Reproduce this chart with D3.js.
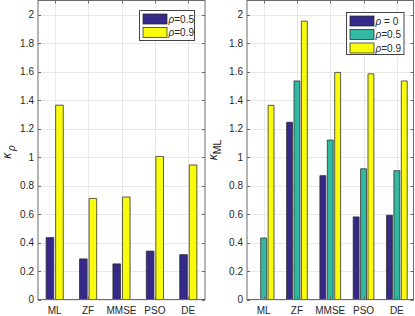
<!DOCTYPE html>
<html><head><meta charset="utf-8">
<script src="https://cdn.jsdelivr.net/npm/d3@7"></script>
<style>
html,body{margin:0;padding:0;background:#fff;}
svg{display:block;font-family:"Liberation Sans",Arial,Helvetica,sans-serif;}
</style></head>
<body>
<svg id="chart" width="415" height="316"></svg>
<script>
const categories = ["ML", "ZF", "MMSE", "PSO", "DE"];
const yTicks = [0, 0.2, 0.4, 0.6, 0.8, 1, 1.2, 1.4, 1.6, 1.8, 2];
const yMax = 2.1;

// Left panel (kappa_rho)
const leftLabels = ["ρ=0.5", "ρ=0.9"];
const left_rho05 = [0.435, 0.285, 0.25, 0.34, 0.315];
const left_rho09 = [1.365, 0.71, 0.72, 1.005, 0.945];
const leftColors = ["#352a87", "#f9fb0e"];

// Right panel (kappa_ML)
const rightLabels = ["ρ = 0", "ρ=0.5", "ρ=0.9"];
const right_rho0 = [0, 1.245, 0.87, 0.58, 0.592];
const right_rho05 = [0.432, 1.535, 1.12, 0.918, 0.905];
const right_rho09 = [1.364, 1.955, 1.595, 1.585, 1.535];
const rightColors = ["#352a87", "#33b8a1", "#f9fb0e"];

const svg = d3.select("#chart");
const plotTop = 0.5, plotBottom = 299.5;

function panel(opts) {
  const g = svg.append("g");
  const x = d3.scaleLinear().domain([0.5, categories.length + 0.5]).range([opts.x0, opts.x1]);
  const y = d3.scaleLinear().domain([0, yMax]).range([plotBottom, plotTop]);
  const n = opts.series.length;
  const groupW = Math.min(0.8, n / (n + 1.5));
  const barW = groupW / n * 0.8;

  // grid
  g.append("g").selectAll("line.hg").data(yTicks).join("line")
    .attr("x1", opts.x0).attr("x2", opts.x1)
    .attr("y1", d => Math.round(y(d)) + 0.5).attr("y2", d => Math.round(y(d)) + 0.5)
    .attr("stroke", "#e8e8e8").attr("stroke-width", 1);
  g.append("g").selectAll("line.vg").data(categories).join("line")
    .attr("x1", (d, i) => Math.round(x(i + 1)) + 0.5).attr("x2", (d, i) => Math.round(x(i + 1)) + 0.5)
    .attr("y1", plotTop).attr("y2", plotBottom)
    .attr("stroke", "#e8e8e8").attr("stroke-width", 1);

  // bars (drawn as paths so a zero-height bar still shows its edge)
  opts.series.forEach((vals, s) => {
    const off = -groupW / 2 + (2 * s + 1) * groupW / (2 * n);
    g.append("g").selectAll("path").data(vals).join("path")
      .attr("d", (d, i) => {
        const bx = x(i + 1 + off - barW / 2), bw = x(barW) - x(0);
        const by = y(d), bh = y(0) - y(d);
        return `M${bx},${by}h${bw}v${bh}h${-bw}Z`;
      })
      .attr("fill", opts.colors[s])
      .attr("stroke", "#2a2a2a").attr("stroke-width", 0.75);
  });

  // axes box
  const ax = g.append("g").attr("stroke", "#6b6b6b").attr("stroke-width", 1).attr("fill", "none");
  ax.append("rect").attr("x", opts.x0).attr("y", plotTop).attr("width", opts.x1 - opts.x0).attr("height", plotBottom - plotTop);
  const tl = 3;
  yTicks.forEach(t => {
    const yy = Math.round(y(t)) + 0.5;
    ax.append("line").attr("x1", opts.x0).attr("x2", opts.x0 + tl).attr("y1", yy).attr("y2", yy);
    ax.append("line").attr("x1", opts.x1).attr("x2", opts.x1 - tl).attr("y1", yy).attr("y2", yy);
  });
  categories.forEach((c, i) => {
    const xx = Math.round(x(i + 1)) + 0.5;
    ax.append("line").attr("x1", xx).attr("x2", xx).attr("y1", plotBottom).attr("y2", plotBottom - tl);
    ax.append("line").attr("x1", xx).attr("x2", xx).attr("y1", plotTop).attr("y2", plotTop + tl);
  });

  // tick labels
  g.append("g").selectAll("text").data(yTicks).join("text")
    .attr("x", opts.x0 - 4).attr("y", d => y(d)).attr("dy", "0.35em")
    .attr("text-anchor", "end").attr("font-size", 10).attr("fill", "#262626")
    .text(d => String(+d.toFixed(1)));
  g.append("g").selectAll("text").data(categories).join("text")
    .attr("x", (d, i) => x(i + 1)).attr("y", 314)
    .attr("text-anchor", "middle").attr("font-size", 10).attr("fill", "#262626")
    .text(d => d);

  // y label
  const yl = g.append("text")
    .attr("transform", `translate(${opts.ylx},${opts.yly}) rotate(-90)`)
    .attr("text-anchor", "middle").attr("fill", "#262626");
  yl.append("tspan").attr("font-style", "italic").attr("font-size", 12).text("κ");
  const sub = yl.append("tspan").attr("dx", opts.subDx).attr("dy", opts.subDy).attr("font-size", opts.subSize).text(opts.sub);
  if (opts.subItalic) sub.attr("font-style", "italic");

  // legend
  const lg = g.append("g");
  const L = opts.legend;
  lg.append("rect").attr("x", L.x).attr("y", L.y).attr("width", L.w).attr("height", L.h)
    .attr("fill", "#fff").attr("stroke", "#444").attr("stroke-width", 1);
  opts.labels.forEach((lab, s) => {
    const cy = L.y + 8.5 + s * 13.5;
    lg.append("rect").attr("x", L.x + 3.5).attr("y", cy - 5).attr("width", 24).attr("height", 10)
      .attr("fill", opts.colors[s]).attr("stroke", "#2a2a2a").attr("stroke-width", 0.75);
    const t = lg.append("text").attr("x", L.x + 29).attr("y", cy).attr("dy", "0.35em")
      .attr("font-size", 10).attr("fill", "#262626");
    t.append("tspan").attr("font-style", "italic").text(lab.slice(0, 1));
    t.append("tspan").text(lab.slice(1));
  });
}

panel({
  x0: 38, x1: 205, series: [left_rho05, left_rho09], colors: leftColors, labels: leftLabels,
  ylx: 11, yly: 152, sub: "ρ", subDx: 2, subDy: 4, subSize: 10, subItalic: true,
  legend: {x: 139.5, y: 10.5, w: 55, h: 30}
});
panel({
  x0: 247, x1: 413.5, series: [right_rho0, right_rho05, right_rho09], colors: rightColors, labels: rightLabels,
  ylx: 217, yly: 150, sub: "ML", subDx: 0, subDy: 4, subSize: 10.5, subItalic: false,
  legend: {x: 346.5, y: 12.5, w: 57.5, h: 42}
});
</script>
</body></html>
